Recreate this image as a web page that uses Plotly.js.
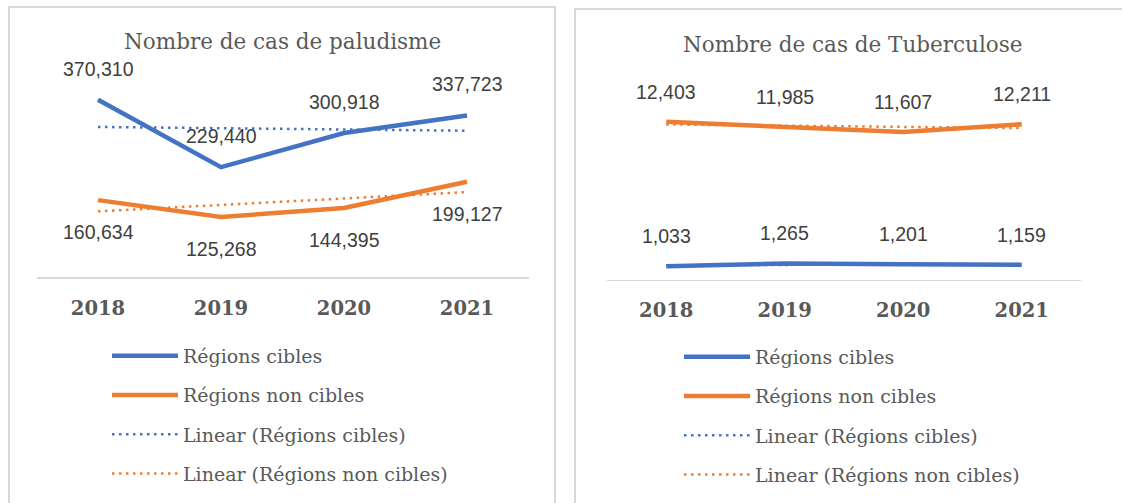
<!DOCTYPE html>
<html>
<head>
<meta charset="utf-8">
<script src="https://cdn.plot.ly/plotly-3.0.1.min.js"></script>
<style>html,body{margin:0;padding:0;background:#fff;}#chart{width:1122px;height:503px;}</style>
</head>
<body>
<div id="chart"></div>
<script>
// ---- data ----
const years = ["2018", "2019", "2020", "2021"];
const paluCibles = [370310, 229440, 300918, 337723];
const paluNonCibles = [160634, 125268, 144395, 199127];
const tbCibles = [1033, 1265, 1201, 1159];
const tbNonCibles = [12403, 11985, 11607, 12211];
const seriesNames = ["Régions cibles", "Régions non cibles", "Linear (Régions cibles)", "Linear (Régions non cibles)"];
const titles = ["Nombre de cas de paludisme", "Nombre de cas de Tuberculose"];

// ---- helpers ----
const W = 1122, H = 503;
const px = v => v / W;
const py = v => 1 - v / H;
const BLUE = "#4472C4", ORANGE = "#ED7D31", GREY = "#595959";

function linearFit(vals) {
  const n = vals.length;
  const xs = vals.map((_, i) => i + 1);
  const mx = xs.reduce((a, b) => a + b, 0) / n;
  const my = vals.reduce((a, b) => a + b, 0) / n;
  let num = 0, den = 0;
  for (let i = 0; i < n; i++) { num += (xs[i] - mx) * (vals[i] - my); den += (xs[i] - mx) ** 2; }
  const s = num / den;
  return xs.map(x => my + s * (x - mx));
}

function traces(cib, non, xa, ya, leg) {
  return [
    {x: years, y: cib, name: seriesNames[0], type: "scatter", mode: "lines", xaxis: xa, yaxis: ya, legend: leg, legendgroup: leg + "a",
     line: {color: BLUE, width: 4.5}},
    {x: years, y: non, name: seriesNames[1], type: "scatter", mode: "lines", xaxis: xa, yaxis: ya, legend: leg, legendgroup: leg + "b",
     line: {color: ORANGE, width: 4.5}},
    {x: years, y: linearFit(cib), name: seriesNames[2], type: "scatter", mode: "lines", xaxis: xa, yaxis: ya, legend: leg, legendgroup: leg + "c",
     line: {color: BLUE, width: 2.5, dash: "2.5px,4.5px"}},
    {x: years, y: linearFit(non), name: seriesNames[3], type: "scatter", mode: "lines", xaxis: xa, yaxis: ya, legend: leg, legendgroup: leg + "d",
     line: {color: ORANGE, width: 2.5, dash: "2.5px,4.5px"}}
  ];
}

const data = [].concat(
  traces(paluCibles, paluNonCibles, "x", "y", "legend"),
  traces(tbCibles, tbNonCibles, "x2", "y2", "legend2")
);

const fmt = v => v.toLocaleString("en-US");
const annotations = [];
function addLabels(vals, xr, yr, shift) {
  vals.forEach((v, i) => annotations.push({
    x: i, y: v, xref: xr, yref: yr, text: fmt(v), showarrow: false, yshift: shift,
    xanchor: "center", yanchor: "middle",
    font: {family: "Liberation Sans, Arial, sans-serif", size: 19.5, color: "#404040"}
  }));
}
addLabels(paluCibles, "x", "y", 31);
addLabels(paluNonCibles, "x", "y", -32);
addLabels(tbNonCibles, "x2", "y2", 30);
addLabels(tbCibles, "x2", "y2", 30);

annotations.push({x: px(282), y: py(42), xref: "paper", yref: "paper", text: titles[0], showarrow: false,
  xanchor: "center", yanchor: "middle",
  font: {family: "DejaVu Serif, Georgia, serif", size: 21.5, color: GREY}});
annotations.push({x: px(853), y: py(44), xref: "paper", yref: "paper", text: titles[1], showarrow: false,
  xanchor: "center", yanchor: "middle",
  font: {family: "DejaVu Serif, Georgia, serif", size: 21.5, color: GREY}});

const xaxisBase = {
  type: "category", range: [-0.5, 3.5], showgrid: false, zeroline: false,
  showline: true, linecolor: "#D9D9D9", linewidth: 1.5, ticks: "", ticklabelstandoff: 13,
  tickfont: {family: "DejaVu Serif, Georgia, serif", size: 19.5, color: GREY, weight: "bold"}, fixedrange: true
};
const yaxisBase = {visible: false, showgrid: false, zeroline: false, fixedrange: true};

const legendBase = {
  orientation: "v", xanchor: "left", yanchor: "top", bgcolor: "rgba(0,0,0,0)",
  font: {family: "DejaVu Serif, Georgia, serif", size: 19, color: GREY},
  itemwidth: 66, tracegroupgap: 11.5, traceorder: "grouped"
};

const layout = {
  width: W, height: H, margin: {l: 0, r: 0, t: 0, b: 0},
  paper_bgcolor: "#fff", plot_bgcolor: "rgba(0,0,0,0)",
  showlegend: true,
  xaxis: Object.assign({}, xaxisBase, {domain: [px(36.5), px(528.5)], anchor: "y"}),
  yaxis: Object.assign({}, yaxisBase, {domain: [py(277), py(85.6)], range: [0, 400000], anchor: "x"}),
  xaxis2: Object.assign({}, xaxisBase, {domain: [px(607), px(1081)], anchor: "y2"}),
  yaxis2: Object.assign({}, yaxisBase, {domain: [py(279.5), py(101.5)], range: [0, 14000], anchor: "x2"}),
  legend: Object.assign({}, legendBase, {x: px(107), y: py(337)}),
  legend2: Object.assign({}, legendBase, {x: px(679), y: py(338)}),
  annotations: annotations,
  shapes: [
    {type: "rect", xref: "paper", yref: "paper", x0: px(9), x1: px(555), y0: py(510), y1: py(7),
     line: {color: "#D9D9D9", width: 2}, fillcolor: "rgba(0,0,0,0)", layer: "below"},
    {type: "rect", xref: "paper", yref: "paper", x0: px(575), x1: px(1130), y0: py(510), y1: py(9),
     line: {color: "#D9D9D9", width: 2}, fillcolor: "rgba(0,0,0,0)", layer: "below"}
  ]
};

Plotly.newPlot("chart", data, layout, {staticPlot: true, displayModeBar: false});
</script>
</body>
</html>
